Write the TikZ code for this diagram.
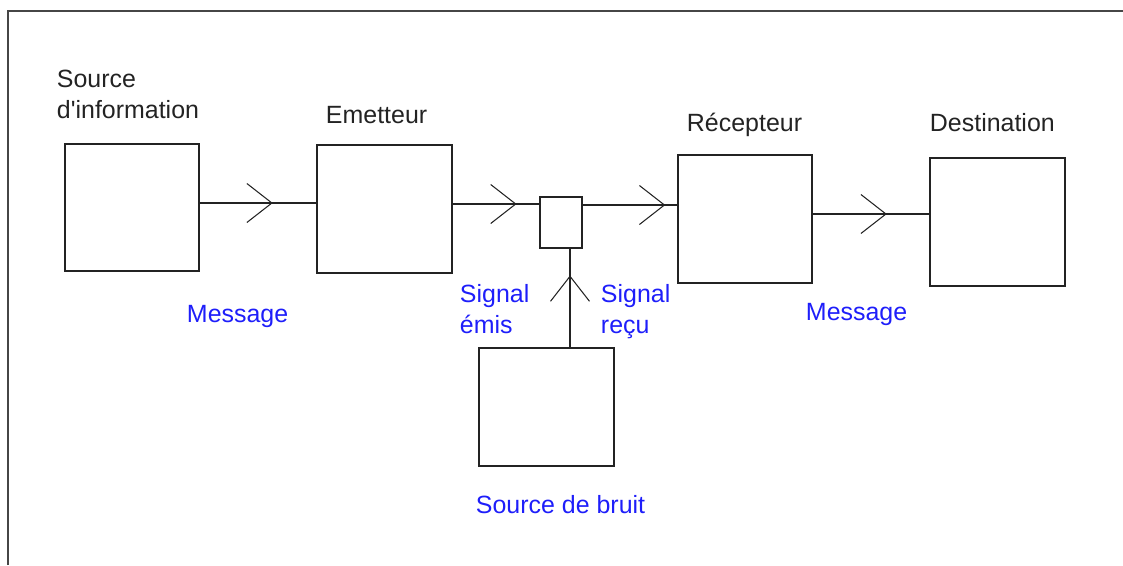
\documentclass[tikz,border=0pt]{standalone}
\usepackage{fontspec}
\setmainfont{Liberation Sans}
\usetikzlibrary{arrows.meta,decorations.markings}
\definecolor{ink}{RGB}{35,35,35}
\definecolor{frame}{RGB}{70,70,70}
\definecolor{label}{RGB}{30,30,250}
\tikzset{
  every picture/.style={color=ink, line width=1.1pt},
  px/.style={x=0.02cm, y=-0.02cm},
  box/.style={draw=ink, line width=1.1pt, inner sep=0pt},
  wire/.style={draw=ink, line width=1.1pt},
  headat/.style={postaction={decorate, decoration={markings,
      mark=at position #1 with {\arrow{Straight Barb[length=5mm, width=7.8mm, line width=0.6pt]}}}}},
  txt/.style={font=\fontsize{14.2}{17.6}\selectfont, inner sep=0pt, anchor=base west, align=left, text=ink},
  lbl/.style={txt, text=label},
}

\begin{document}
\begin{tikzpicture}[px]
  \useasboundingbox (0,0) rectangle (1123,565);
  \draw[frame, line width=1.4pt] (8,565) -- (8,11) -- (1123,11);
  % the chain of boxes
  \node[box, minimum width=2.68cm, minimum height=2.54cm] (src) at (132,207.5) {};
  \node[box, minimum width=2.70cm, minimum height=2.56cm] (emit) at (384.5,209) {};
  \node[box, minimum width=0.84cm, minimum height=1.02cm] (mix) at (561,222.5) {};
  \node[box, minimum width=2.68cm, minimum height=2.56cm] (recv) at (745,219) {};
  \node[box, minimum width=2.70cm, minimum height=2.56cm] (dest) at (997.5,222) {};
  \node[box, minimum width=2.70cm, minimum height=2.36cm] (noise) at (546.5,407) {};
  \draw[wire, headat=0.627] (src.east |- 0,203) -- (emit.west |- 0,203);
  \draw[wire, headat=0.739] (emit.east |- 0,204) -- (mix.west |- 0,204);
  \draw[wire, headat=0.875] (mix.east |- 0,205) -- (recv.west |- 0,205);
  \draw[wire, headat=0.636] (recv.east |- 0,214) -- (dest.west |- 0,214);
  \draw[wire, headat=0.73] (noise.north -| 570,0) -- (mix.south -| 570,0);
  % texts (base of a two-line node is its last line)
  \node[txt] (tsrc) at (56,118) {Source\\d\textquotesingle information};
  \node[txt] (temit) at (325,123) {Emetteur};
  \node[txt] (trecv) at (686,131) {Récepteur};
  \node[txt] (tdest) at (929,131) {Destination};
  \node[lbl] (msg1) at (186,322) {Message};
  \node[lbl] (sigout) at (459,333) {Signal\\émis};
  \node[lbl] (sigin) at (600,333) {Signal\\reçu};
  \node[lbl] (msg2) at (805,320) {Message};
  \node[lbl] (tnoise) at (475,513) {Source de bruit};
\end{tikzpicture}
\end{document}
